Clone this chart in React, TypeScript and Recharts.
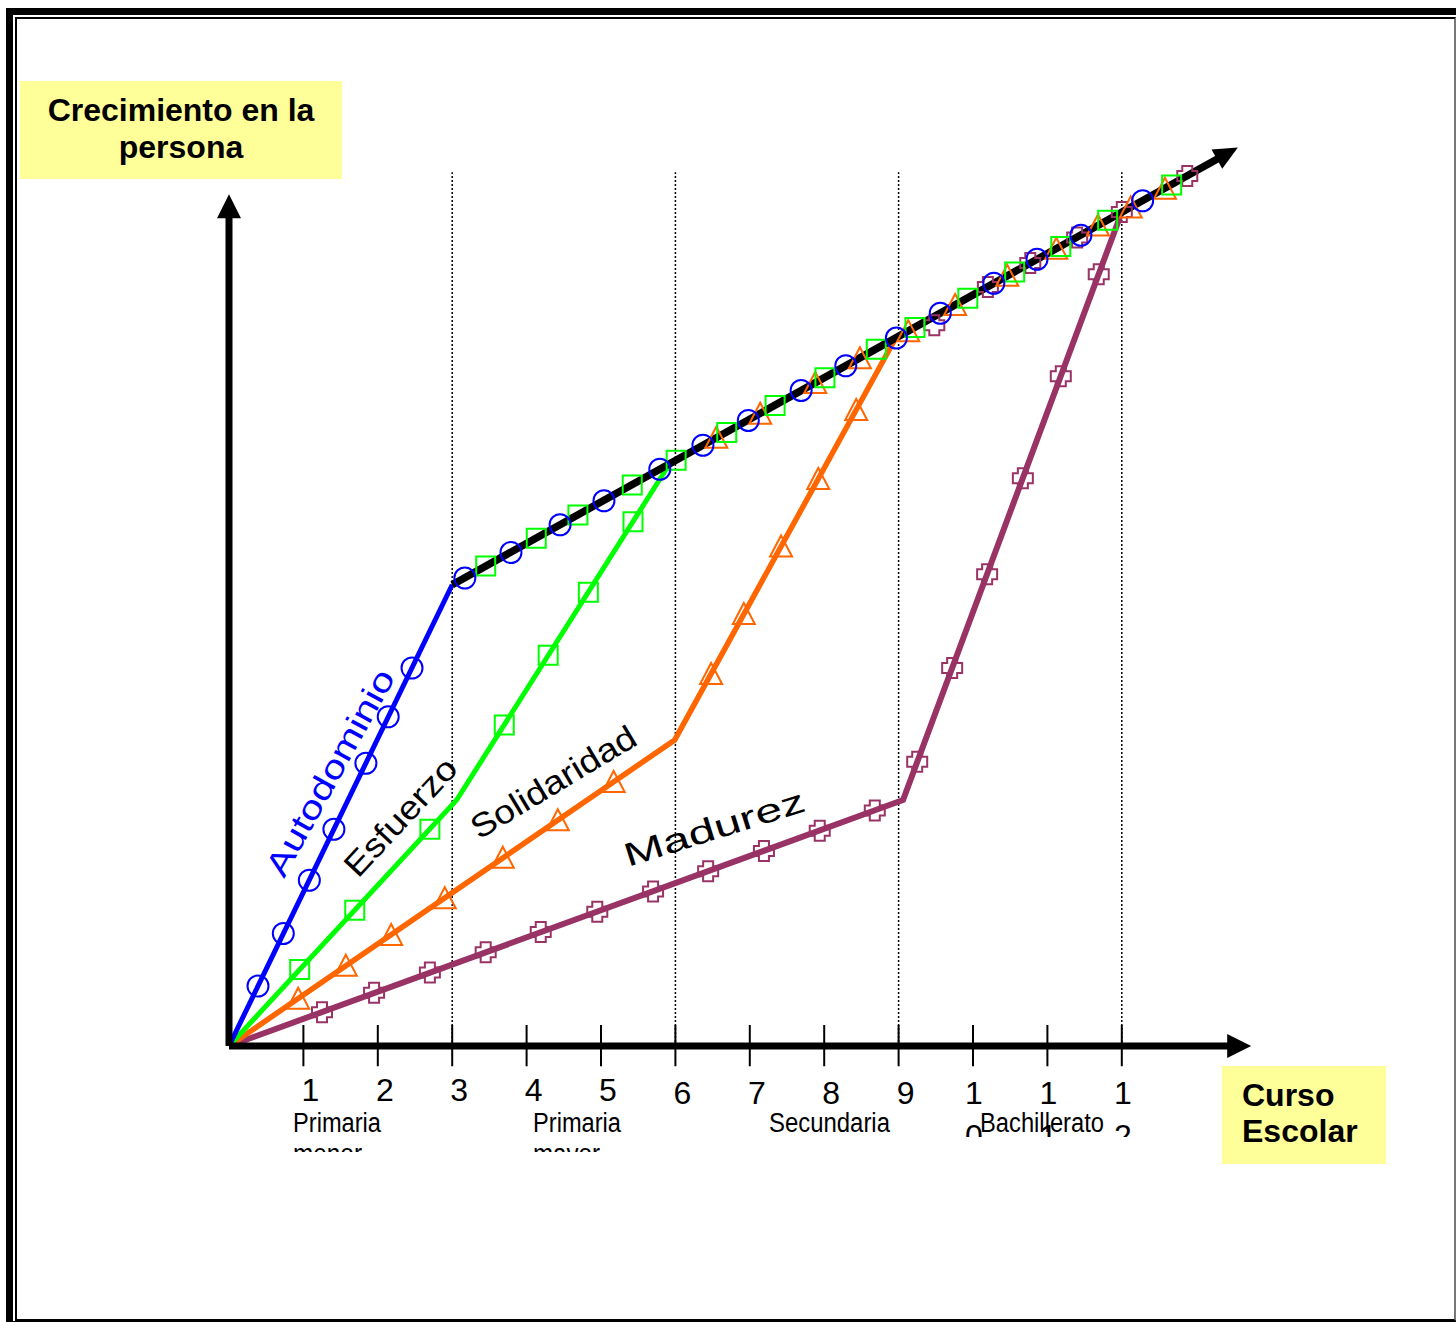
import React from 'react';
import { LineChart, Line, XAxis, YAxis, ReferenceLine } from 'recharts';

// x = curso escolar, y = crecimiento (arbitrary units)
const courseTicks = [1, 2, 3, 4, 5, 6, 7, 8, 9, 10, 11, 12];
const courseLabels = ['1', '2', '3', '4', '5', '6', '7', '8', '9', '10', '11', '12'];
const stageBounds = [3, 6, 9, 12];
const stageNames = [['Primaria', 'menor'], ['Primaria', 'mayor'], ['Secundaria'], ['Bachillerato']];
const seriesNames = ['Autodominio', 'Esfuerzo', 'Solidaridad', 'Madurez'];
const guideTop = 11.65;

// shared growth line (black arrow)
const commonPath = [{ x: 3, y: 6.15 }, { x: 13.29, y: 11.83 }];

const autodominioPath = [{ x: 0, y: 0 }, { x: 3, y: 6.15 }];
const esfuerzoPath = [{ x: 0, y: 0 }, { x: 3.06, y: 3.28 }, { x: 5.92, y: 7.76 }];
const solidaridadPath = [{ x: 0, y: 0 }, { x: 5.99, y: 4.08 }, { x: 8.95, y: 9.42 }];
const madurezPath = [{ x: 0, y: 0 }, { x: 9.06, y: 3.28 }, { x: 12.0, y: 11.12 }];

const autodominioMarks = [
  { x: 0.39, y: 0.8 }, { x: 0.73, y: 1.5 }, { x: 1.08, y: 2.21 }, { x: 1.41, y: 2.89 },
  { x: 1.84, y: 3.77 }, { x: 2.14, y: 4.39 }, { x: 2.46, y: 5.04 },
  { x: 3.17, y: 6.24 }, { x: 3.79, y: 6.58 }, { x: 4.45, y: 6.95 }, { x: 5.04, y: 7.27 },
  { x: 5.79, y: 7.69 }, { x: 6.37, y: 8.01 }, { x: 6.98, y: 8.34 }, { x: 7.69, y: 8.74 },
  { x: 8.29, y: 9.07 }, { x: 8.97, y: 9.44 }, { x: 9.56, y: 9.77 }, { x: 10.28, y: 10.17 },
  { x: 10.86, y: 10.49 }, { x: 11.45, y: 10.81 }, { x: 12.28, y: 11.27 },
];
const esfuerzoMarks = [
  { x: 0.95, y: 1.02 }, { x: 1.69, y: 1.81 }, { x: 2.7, y: 2.89 },
  { x: 3.7, y: 4.28 }, { x: 4.29, y: 5.21 }, { x: 4.83, y: 6.05 }, { x: 5.43, y: 6.99 },
  { x: 3.45, y: 6.4 }, { x: 4.13, y: 6.77 }, { x: 4.69, y: 7.08 }, { x: 5.42, y: 7.48 },
  { x: 6.01, y: 7.81 }, { x: 6.69, y: 8.18 }, { x: 7.34, y: 8.54 }, { x: 8.01, y: 8.91 },
  { x: 8.7, y: 9.29 }, { x: 9.22, y: 9.58 }, { x: 9.93, y: 9.97 }, { x: 10.56, y: 10.32 },
  { x: 11.18, y: 10.66 }, { x: 11.81, y: 11.01 }, { x: 12.67, y: 11.48 },
];
const solidaridadMarks = [
  { x: 0.93, y: 0.63 }, { x: 1.57, y: 1.07 }, { x: 2.18, y: 1.48 }, { x: 2.9, y: 1.97 },
  { x: 3.68, y: 2.51 }, { x: 4.42, y: 3.01 }, { x: 5.17, y: 3.52 },
  { x: 6.48, y: 4.96 }, { x: 6.92, y: 5.76 }, { x: 7.42, y: 6.66 }, { x: 7.92, y: 7.56 }, { x: 8.43, y: 8.48 },
  { x: 6.55, y: 8.11 }, { x: 7.14, y: 8.43 }, { x: 7.88, y: 8.84 }, { x: 8.48, y: 9.17 },
  { x: 9.13, y: 9.53 }, { x: 9.76, y: 9.88 }, { x: 10.46, y: 10.27 }, { x: 11.12, y: 10.63 },
  { x: 11.68, y: 10.94 }, { x: 12.12, y: 11.18 }, { x: 12.58, y: 11.43 },
];
const madurezMarks = [
  { x: 1.25, y: 0.45 }, { x: 1.95, y: 0.71 }, { x: 2.7, y: 0.98 }, { x: 3.45, y: 1.25 },
  { x: 4.19, y: 1.52 }, { x: 4.95, y: 1.79 }, { x: 5.7, y: 2.06 }, { x: 6.44, y: 2.33 },
  { x: 7.19, y: 2.6 }, { x: 7.94, y: 2.87 }, { x: 8.68, y: 3.14 },
  { x: 9.25, y: 3.79 }, { x: 9.72, y: 5.04 }, { x: 10.19, y: 6.29 }, { x: 10.67, y: 7.57 },
  { x: 11.18, y: 8.93 }, { x: 11.69, y: 10.29 },
  { x: 9.48, y: 9.61 }, { x: 10.2, y: 10.12 }, { x: 10.77, y: 10.44 }, { x: 11.4, y: 10.78 },
  { x: 12.0, y: 11.12 }, { x: 12.88, y: 11.6 },
];

const xAxisPath = [{ x: 0, y: 0 }, { x: 13.43, y: 0 }];
const yAxisPath = [{ x: 0, y: 0 }, { x: 0, y: 11.05 }];

const FONT = '"Liberation Sans", Arial, Helvetica, sans-serif';
const NARROW = '"Liberation Sans Narrow", "Arial Narrow", "Liberation Sans", Arial, sans-serif';
const BLUE = '#0000FF';
const GREEN = '#00FF00';
const ORANGE = '#FF6600';
const PURPLE = '#993366';

const circleDot = (p: any) => (
  <circle key={p.index} cx={p.cx} cy={p.cy} r={10.5} fill="none" stroke={BLUE} strokeWidth={2} />
);
const squareDot = (p: any) => (
  <rect key={p.index} x={p.cx - 9.5} y={p.cy - 9.5} width={19} height={19} fill="none" stroke={GREEN} strokeWidth={2} />
);
const triangleDot = (p: any) => (
  <polygon
    key={p.index}
    points={`${p.cx},${p.cy - 11} ${p.cx + 11},${p.cy + 10} ${p.cx - 11},${p.cy + 10}`}
    fill="none"
    stroke={ORANGE}
    strokeWidth={2}
  />
);
const crossDot = (p: any) => {
  const { cx, cy } = p;
  const a = 10;
  const b = 5;
  const d = `M${cx - b},${cy - a}H${cx + b}V${cy - b}H${cx + a}V${cy + b}H${cx + b}V${cy + a}H${cx - b}V${cy + b}H${cx - a}V${cy - b}H${cx - b}Z`;
  return <path key={p.index} d={d} fill="none" stroke={PURPLE} strokeWidth={2} />;
};

// arrow head drawn forward from the last point of a 2-point line
const arrowDot = (dx: number, dy: number, len: number, half: number) => (p: any) => {
  if (p.index !== 1) return <g key={p.index} />;
  const { cx, cy } = p;
  const bx = cx - dx;
  const by = cy - dy;
  const tip = `${cx + dx * len},${cy + dy * len}`;
  const l = `${bx - dy * half},${by + dx * half}`;
  const r = `${bx + dy * half},${by - dx * half}`;
  return <polygon key={p.index} points={`${tip} ${l} ${r}`} fill="#000" />;
};

const CourseTick = (props: any) => {
  const { x, index } = props;
  const label = courseLabels[index];
  if (label.length === 1) {
    return (
      <text x={x + 7} y={index < 5 ? 1101 : 1104} textAnchor="middle" fontSize={32} fontFamily={FONT} fill="#000">
        {label}
      </text>
    );
  }
  return (
    <g>
      <defs>
        <clipPath id={`tick-clip-${index}`}>
          <rect x={x - 30} y={1000} width={60} height={137} />
        </clipPath>
      </defs>
      <text x={x + 1} y={1104} textAnchor="middle" fontSize={32} fontFamily={FONT} fill="#000">
        {label[0]}
      </text>
      <text x={x + 1} y={1147} textAnchor="middle" fontSize={32} fontFamily={FONT} fill="#000" clipPath={`url(#tick-clip-${index})`}>
        {label[1]}
      </text>
    </g>
  );
};

const stagePos = [
  { x: 293, w: [88, 69] },
  { x: 533, w: [88, 67] },
  { x: 769, w: [121] },
  { x: 980, w: [124] },
];

const seriesLabelPos = [
  { x: 284, y: 879, a: -61, len: 231, color: BLUE },
  { x: 358, y: 879, a: -47, len: 149, color: '#000' },
  { x: 479, y: 840, a: -31, len: 187, color: '#000' },
  { x: 628, y: 867, a: -17.5, len: 188, color: '#000' },
];

export default function App() {
  return (
    <div style={{ position: 'absolute', left: 0, top: 0, width: 1456, height: 1322, overflow: 'hidden', background: '#fff' }}>
      {/* double frame */}
      <div style={{ position: 'absolute', left: 6, top: 8, width: 1500, height: 1320, boxSizing: 'border-box', borderLeft: '7px solid #000', borderTop: '7px solid #000', borderBottom: '7px solid #000' }} />
      <div style={{ position: 'absolute', left: 15, top: 17, width: 1441, height: 1304, boxSizing: 'border-box', border: '2px solid #000', borderRightColor: '#777' }} />

      <div style={{ position: 'absolute', left: 20, top: 81, width: 322, height: 98, background: '#FFFF99', boxSizing: 'border-box', paddingTop: 11, textAlign: 'center', fontFamily: FONT, fontWeight: 'bold', fontSize: 32, lineHeight: '37px', color: '#000' }}>
        Crecimiento en la<br />persona
      </div>
      <div style={{ position: 'absolute', left: 1222, top: 1066, width: 164, height: 98, background: '#FFFF99', boxSizing: 'border-box', paddingTop: 11, paddingLeft: 20, fontFamily: FONT, fontWeight: 'bold', fontSize: 32, lineHeight: '36px', color: '#000' }}>
        Curso<br />Escolar
      </div>

      <div style={{ position: 'absolute', left: 0, top: 0 }}>
        <LineChart width={1456} height={1322} margin={{ top: 146, left: 229, right: 185.4, bottom: 246 }}>
          <XAxis
            type="number"
            dataKey="x"
            domain={[0, 14]}
            ticks={courseTicks}
            interval={0}
            height={30}
            axisLine={false}
            tickLine={false}
            tick={<CourseTick />}
          />
          <YAxis type="number" dataKey="y" domain={[0, 12]} hide />

          {stageBounds.map((b) => (
            <Line
              key={`guide-${b}`}
              data={[{ x: b, y: 0 }, { x: b, y: guideTop }]}
              dataKey="y"
              stroke="#000"
              strokeWidth={1.5}
              strokeDasharray="2 2"
              dot={false}
              activeDot={false}
              isAnimationActive={false}
            />
          ))}
          {courseTicks.map((t) => (
            <ReferenceLine
              key={`tick-${t}`}
              segment={[{ x: t, y: -0.27 }, { x: t, y: 0.28 }]}
              stroke="#000"
              strokeWidth={2}
              ifOverflow="visible"
            />
          ))}

          <Line data={madurezPath} dataKey="y" stroke={PURPLE} strokeWidth={6} dot={false} activeDot={false} isAnimationActive={false} />
          <Line data={solidaridadPath} dataKey="y" stroke={ORANGE} strokeWidth={5.5} dot={false} activeDot={false} isAnimationActive={false} />
          <Line data={esfuerzoPath} dataKey="y" stroke={GREEN} strokeWidth={5} dot={false} activeDot={false} isAnimationActive={false} />
          <Line data={autodominioPath} dataKey="y" stroke={BLUE} strokeWidth={5} dot={false} activeDot={false} isAnimationActive={false} />

          <Line data={xAxisPath} dataKey="y" stroke="#000" strokeWidth={7} dot={arrowDot(1, 0, 23, 12)} activeDot={false} isAnimationActive={false} />
          <Line data={yAxisPath} dataKey="y" stroke="#000" strokeWidth={7} dot={arrowDot(0, -1, 23, 12)} activeDot={false} isAnimationActive={false} />
          <Line data={commonPath} dataKey="y" stroke="#000" strokeWidth={7.5} dot={arrowDot(0.874, -0.486, 23, 11)} activeDot={false} isAnimationActive={false} />

          <Line data={madurezMarks} dataKey="y" stroke="none" dot={crossDot} activeDot={false} isAnimationActive={false} />
          <Line data={solidaridadMarks} dataKey="y" stroke="none" dot={triangleDot} activeDot={false} isAnimationActive={false} />
          <Line data={esfuerzoMarks} dataKey="y" stroke="none" dot={squareDot} activeDot={false} isAnimationActive={false} />
          <Line data={autodominioMarks} dataKey="y" stroke="none" dot={circleDot} activeDot={false} isAnimationActive={false} />
        </LineChart>
      </div>

      <svg width={1456} height={1322} style={{ position: 'absolute', left: 0, top: 0, pointerEvents: 'none' }}>
        <defs>
          <clipPath id="stage-clip">
            <rect x={0} y={0} width={1456} height={1152} />
          </clipPath>
        </defs>
        {stageNames.map((lines, i) => (
          <g key={`stage-${i}`} clipPath="url(#stage-clip)">
            {lines.map((ln, j) => (
              <text
                key={ln}
                x={stagePos[i].x}
                y={1132 + j * 31}
                fontSize={27}
                fontFamily={NARROW}
                fill="#000"
                textLength={stagePos[i].w[j]}
                lengthAdjust="spacingAndGlyphs"
              >
                {ln}
              </text>
            ))}
          </g>
        ))}
        {seriesNames.map((name, i) => {
          const s = seriesLabelPos[i];
          return (
            <text
              key={name}
              transform={`translate(${s.x},${s.y}) rotate(${s.a})`}
              fontSize={33}
              fontFamily={FONT}
              fill={s.color}
              textLength={s.len}
              lengthAdjust="spacingAndGlyphs"
            >
              {name}
            </text>
          );
        })}
      </svg>
    </div>
  );
}
